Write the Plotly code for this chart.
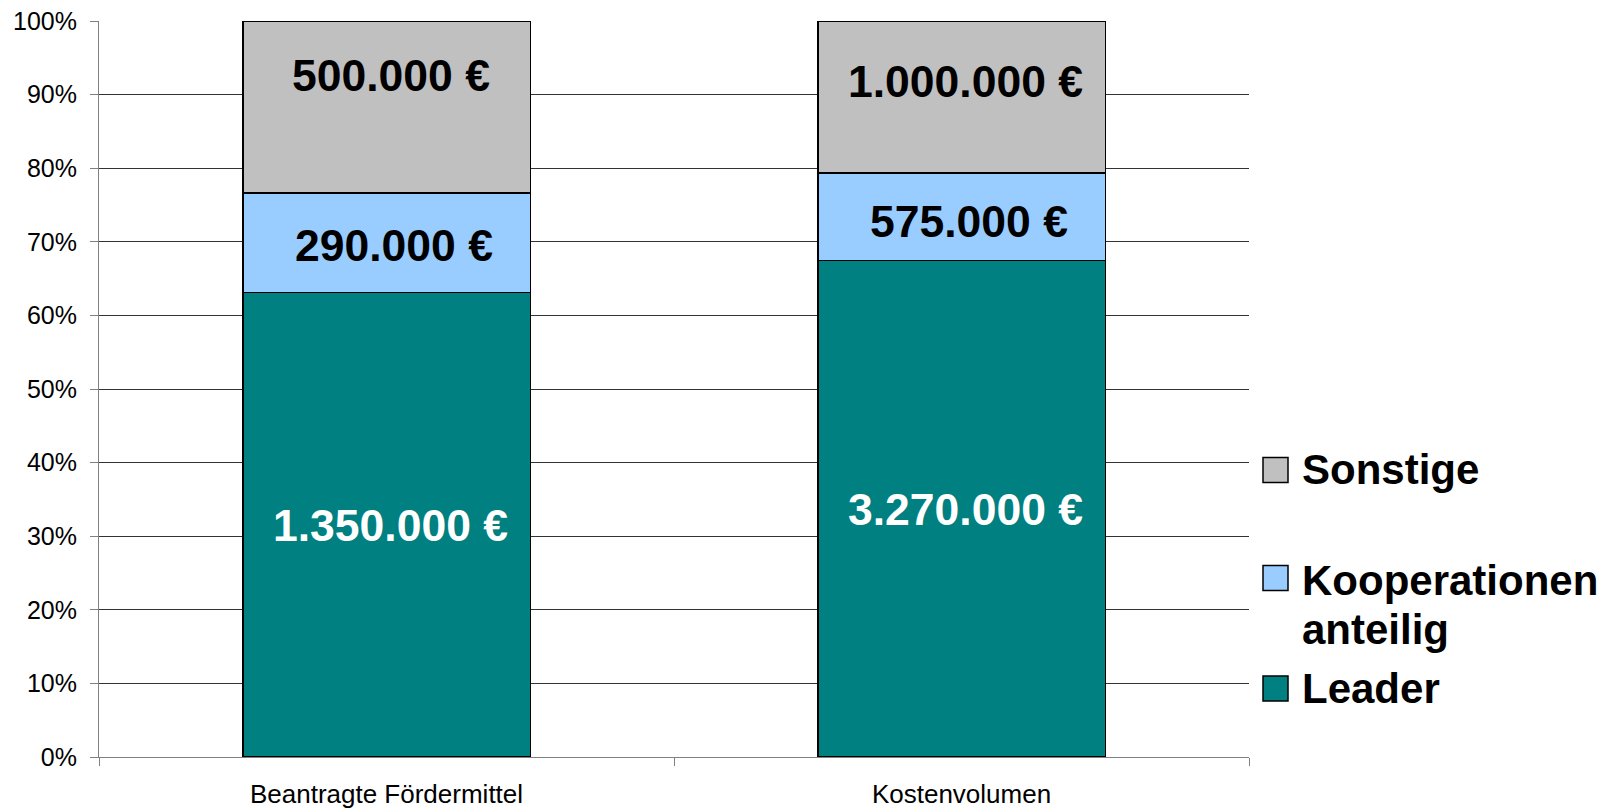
import plotly.graph_objects as go

# ---- data ----
categories = ["Beantragte Fördermittel", "Kostenvolumen"]
series_names = ["Leader", "Kooperationen anteilig", "Sonstige"]
leader = [1350000, 3270000]
kooperationen = [290000, 575000]
sonstige = [500000, 1000000]
y_tick_values = [0, 10, 20, 30, 40, 50, 60, 70, 80, 90, 100]
y_tick_labels = ["0%", "10%", "20%", "30%", "40%", "50%", "60%", "70%", "80%", "90%", "100%"]

# ---- styles ----
colors = {"Leader": "#008080", "Kooperationen anteilig": "#99CCFF", "Sonstige": "#C0C0C0"}
label_colors = {"Leader": "white", "Kooperationen anteilig": "black", "Sonstige": "black"}
label_yshift = {"Leader": [-1, -1], "Kooperationen anteilig": [-3, -5], "Sonstige": [31, 15]}
label_xshift = {"Leader": 4, "Kooperationen anteilig": 7, "Sonstige": 4}
FONT = "Liberation Sans, Arial, sans-serif"

series_values = {"Leader": leader, "Kooperationen anteilig": kooperationen, "Sonstige": sonstige}

def fmt_eur(v):
    return f"{v:,}".replace(",", ".") + " €"

fig = go.Figure()
for name in series_names:
    fig.add_trace(go.Bar(
        x=categories, y=series_values[name], name=name,
        marker=dict(color=colors[name], line=dict(color="black", width=1.5)),
        showlegend=False, hoverinfo="skip",
    ))

# data labels at segment centres (percent of total)
for i, cat in enumerate(categories):
    total = sum(series_values[n][i] for n in series_names)
    base = 0.0
    for name in series_names:
        v = series_values[name][i]
        pct = v / total * 100
        fig.add_annotation(
            x=cat, y=base + pct / 2, xref="x", yref="y",
            text="<b>" + fmt_eur(v) + "</b>", showarrow=False,
            font=dict(family=FONT, size=44.5, color=label_colors[name]),
            yshift=label_yshift[name][i], xshift=label_xshift[name],
        )
        base += pct

# custom legend (paper coords; plot area spans px 99..1249 x, 21..757 y)
W, H = 1608, 808
PL, PR, PT, PB = 99, 1249, 21, 757
def px_x(p):
    return (p - PL) / (PR - PL)
def px_y(p):
    return (PB - p) / (PB - PT)

legend_squares = [("Sonstige", 470), ("Kooperationen anteilig", 578), ("Leader", 688.5)]
legend_lines = [("Sonstige", 469), ("Kooperationen", 580), ("anteilig", 629), ("Leader", 688)]
for name, cy in legend_squares:
    fig.add_shape(type="rect", xref="paper", yref="paper",
                  x0=px_x(1263), x1=px_x(1288),
                  y0=px_y(cy + 12.5), y1=px_y(cy - 12.5),
                  fillcolor=colors[name], line=dict(color="black", width=1.5))
for txt, cy in legend_lines:
    fig.add_annotation(
        x=px_x(1300), y=px_y(cy), xref="paper", yref="paper",
        xanchor="left", yanchor="middle",
        text="<b>" + txt + "</b>", showarrow=False, align="left",
        font=dict(family=FONT, size=42, color="black"),
    )

fig.update_layout(
    barmode="stack", barnorm="percent", bargap=0.5,
    width=W, height=H,
    margin=dict(l=PL, r=W - PR, t=PT, b=H - PB, autoexpand=False),
    paper_bgcolor="white", plot_bgcolor="white",
    font=dict(family=FONT, color="black"),
)
fig.update_yaxes(
    range=[0, 100], tickvals=y_tick_values, ticktext=y_tick_labels,
    showgrid=True, gridcolor="#333333", gridwidth=1,
    zeroline=False, showline=True, linecolor="#808080", linewidth=1,
    ticks="outside", ticklen=8, tickcolor="#808080",
    tickfont=dict(family=FONT, size=25, color="black"),
    ticklabelstandoff=8, automargin=False,
)
fig.update_xaxes(
    showgrid=False, showline=True, linecolor="#808080", linewidth=1,
    ticks="outside", ticklen=8, tickcolor="#808080", tickson="boundaries",
    tickfont=dict(family=FONT, size=26, color="black"),
    ticklabelstandoff=14, automargin=False,
)

fig.write_html("out.html", config={"displayModeBar": False},
               post_script="document.body.style.margin='0';document.body.style.overflow='hidden';")
